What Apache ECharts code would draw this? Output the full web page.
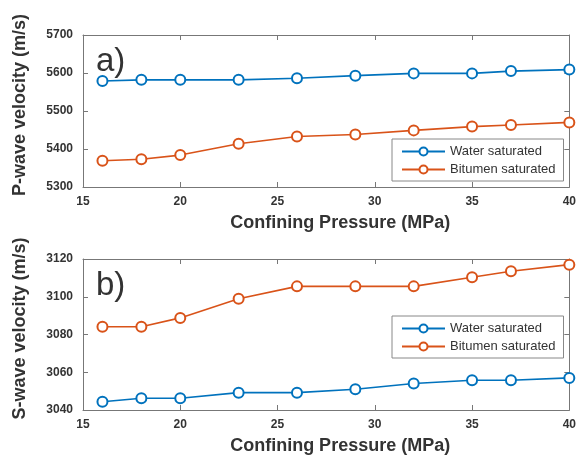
<!DOCTYPE html>
<html>
<head>
<meta charset="utf-8">
<script src="https://cdn.jsdelivr.net/npm/echarts@6/dist/echarts.min.js"></script>
<style>
    html, body { margin: 0; padding: 0; background: #fff; }
    #chart { width: 579px; height: 457px; }
</style>
</head>
<body>
<div id="chart"></div>
<script>
// confining pressure (MPa)
var pressure = [16, 18, 20, 23, 26, 29, 32, 35, 37, 40]
// P-wave velocity (m/s)
var pWater = [5579, 5582, 5582, 5582, 5586, 5593, 5599, 5599, 5605, 5609]
var pBitumen = [5369, 5373, 5384, 5414, 5433, 5438, 5449, 5459, 5463, 5470]
// S-wave velocity (m/s)
var sWater = [3044.4, 3046.2, 3046.2, 3049.2, 3049.2, 3051, 3054, 3055.8, 3055.8, 3057]
var sBitumen = [3084.1, 3084.1, 3088.8, 3098.9, 3105.5, 3105.5, 3105.5, 3110.3, 3113.5, 3117]
var seriesNames = ['Water saturated', 'Bitumen saturated']

var blue = '#0072BD'
var orange = '#D95319'
var axisColor = '#777'
var textColor = '#333'
var font = 'Liberation Sans, Arial, sans-serif'

function pairs(ys) {
    return pressure.map(function(x, i) { return [x, ys[i]] })
}

function xAxes(gridIndex) {
    return [
        {
            gridIndex: gridIndex, type: 'value', min: 15, max: 40, interval: 5,
            name: 'Confining Pressure (MPa)', nameLocation: 'middle', nameGap: 27,
            nameTextStyle: { fontSize: 18, fontWeight: 'bold', color: textColor, fontFamily: font, padding: [0, 0, 0, 28] },
            axisLine: { lineStyle: { color: axisColor } },
            axisTick: { inside: true, length: 5, lineStyle: { color: axisColor } },
            axisLabel: { fontSize: 12, fontWeight: 'bold', color: textColor, fontFamily: font, margin: 9 },
            splitLine: { show: false }
        },
        {
            gridIndex: gridIndex, type: 'value', min: 15, max: 40, interval: 5, position: 'top',
            axisLine: { lineStyle: { color: axisColor } },
            axisTick: { inside: true, length: 5, lineStyle: { color: axisColor } },
            axisLabel: { show: false },
            splitLine: { show: false }
        }
    ]
}

function yAxes(gridIndex, min, max, interval, name) {
    return [
        {
            gridIndex: gridIndex, type: 'value', min: min, max: max, interval: interval,
            name: name, nameLocation: 'middle', nameGap: 54,
            nameTextStyle: { fontSize: 18, fontWeight: 'bold', color: textColor, fontFamily: font, padding: [0, 0, 0, 12] },
            axisLine: { show: true, lineStyle: { color: axisColor } },
            axisTick: { show: true, inside: true, length: 5, lineStyle: { color: axisColor } },
            axisLabel: { fontSize: 12, fontWeight: 'bold', color: textColor, fontFamily: font, margin: 10,
                formatter: function(v) { return String(v) } },
            splitLine: { show: false }
        },
        {
            gridIndex: gridIndex, type: 'value', min: min, max: max, interval: interval, position: 'right',
            axisLine: { show: true, lineStyle: { color: axisColor } },
            axisTick: { show: true, inside: true, length: 5, lineStyle: { color: axisColor } },
            axisLabel: { show: false },
            splitLine: { show: false }
        }
    ]
}

function lineSeries(name, color, axisIdx, ys) {
    return {
        name: name,
        type: 'line',
        xAxisIndex: axisIdx,
        yAxisIndex: axisIdx,
        data: pairs(ys),
        symbol: 'emptyCircle',
        symbolSize: 10,
        lineStyle: { color: color, width: 1.6 },
        itemStyle: { color: color, borderColor: color, borderWidth: 1.6 },
        animation: false
    }
}

function legendAt(top) {
    return {
        orient: 'vertical',
        left: 392,
        top: top,
        width: 173,
        padding: [6, 8, 5, 9],
        itemWidth: 43,
        itemHeight: 10,
        itemGap: 5,
        backgroundColor: '#fff',
        borderColor: '#888',
        borderWidth: 1,
        textStyle: { fontSize: 13, color: textColor, fontFamily: font },
        data: seriesNames
    }
}

var chart = echarts.init(document.getElementById('chart'), null, { renderer: 'canvas' })
var option = {
    backgroundColor: '#fff',
    title: [
        { text: 'a)', left: 91, top: 40, textStyle: { fontSize: 33, fontWeight: 'normal', color: textColor, fontFamily: font } },
        { text: 'b)', left: 91, top: 264, textStyle: { fontSize: 33, fontWeight: 'normal', color: textColor, fontFamily: font } }
    ],
    grid: [
        { left: 83, top: 35, width: 488, height: 152 },
        { left: 83, top: 259, width: 488, height: 151 }
    ],
    legend: [legendAt(139), legendAt(316)],
    xAxis: xAxes(0).concat(xAxes(1)),
    yAxis: yAxes(0, 5300, 5700, 100, 'P-wave velocity (m/s)').concat(yAxes(1, 3040, 3120, 20, 'S-wave velocity (m/s)')),
    series: [
        lineSeries(seriesNames[0], blue, 0, pWater),
        lineSeries(seriesNames[1], orange, 0, pBitumen),
        lineSeries(seriesNames[0], blue, 2, sWater),
        lineSeries(seriesNames[1], orange, 2, sBitumen)
    ]
}
chart.setOption(option)
</script>
</body>
</html>
